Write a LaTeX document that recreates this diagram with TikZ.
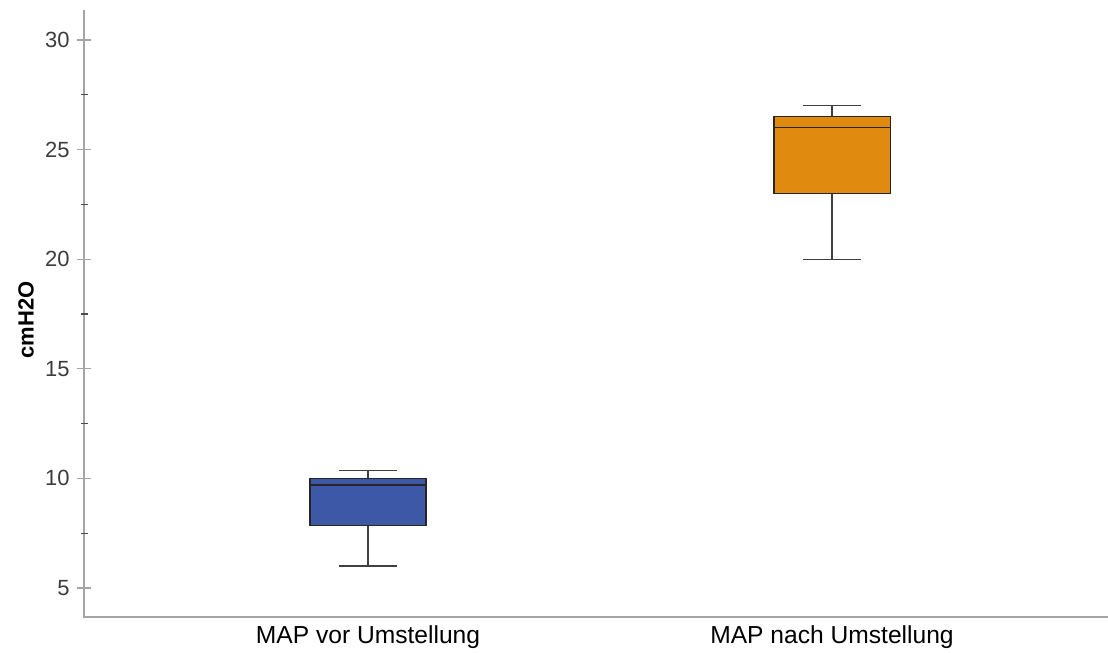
\documentclass[tikz,border=0pt]{standalone}
\usepackage{fontspec}
\setmainfont{Liberation Sans}
\usepackage{xcolor}
\usetikzlibrary{positioning}

\definecolor{boxblue}{RGB}{62,88,168}
\definecolor{boxorange}{RGB}{224,138,16}
\definecolor{axisgray}{RGB}{165,165,165}
\definecolor{ticktext}{RGB}{60,60,60}

\tikzset{
  ticklabel/.style={anchor=east, inner sep=0pt, text=ticktext, font=\fontsize{12.5}{14}\selectfont},
  catlabel/.style={inner sep=0pt, font=\fontsize{14}{16}\selectfont},
  boxline/.style={draw=black!85, line width=0.8pt},
  whisker/.style={draw=black!75, line width=0.7pt},
}

\begin{document}
\begin{tikzpicture}
  \useasboundingbox (0,0) rectangle (22.16,13.04);
  % data scope: one y unit = one cmH2O
  \begin{scope}[yshift=-0.912cm, y=0.4384cm]
    \draw[axisgray, line width=1.1pt] (1.68,31.37) -- (1.68,3.677) -- (22.16,3.677);
    \foreach \v in {5,10,...,30} {
      \draw[axisgray, line width=0.6pt] (1.54,\v) -- (1.82,\v);
      \node[ticklabel] (tick\v) at (1.40,\v) {\v};
    }
    \foreach \v in {7.5,12.5,...,27.5}
      \draw[black!70, line width=0.6pt] (1.62,\v) -- (1.75,\v);

    % MAP vor Umstellung
    \draw[whisker] (7.36,6) -- (7.36,7.86);
    \draw[whisker] (7.36,10.0) -- (7.36,10.35);
    \draw[whisker] (6.78,6) -- (7.94,6);
    \draw[whisker] (6.78,10.35) -- (7.94,10.35);
    \fill[boxblue] (6.20,7.86) rectangle (8.52,10.0);
    \draw[boxline] (6.20,7.86) rectangle (8.52,10.0);
    \draw[boxline] (6.20,9.70) -- (8.52,9.70);

    % MAP nach Umstellung
    \draw[whisker] (16.64,20) -- (16.64,23);
    \draw[whisker] (16.64,26.5) -- (16.64,27);
    \draw[whisker] (16.06,20) -- (17.22,20);
    \draw[whisker] (16.06,27) -- (17.22,27);
    \fill[boxorange] (15.48,23) rectangle (17.81,26.5);
    \draw[boxline] (15.48,23) rectangle (17.81,26.5);
    \draw[boxline] (15.48,26) -- (17.81,26);
  \end{scope}

  \node[catlabel] (vor) at (7.36,0.30) {MAP vor Umstellung};
  \node[catlabel] (nach) at (16.64,0.30) {MAP nach Umstellung};
  \node[rotate=90, inner sep=0pt, font=\fontsize{12.5}{14}\selectfont\bfseries] (ylab) at (0.52,6.64) {cmH2O};
\end{tikzpicture}
\end{document}
